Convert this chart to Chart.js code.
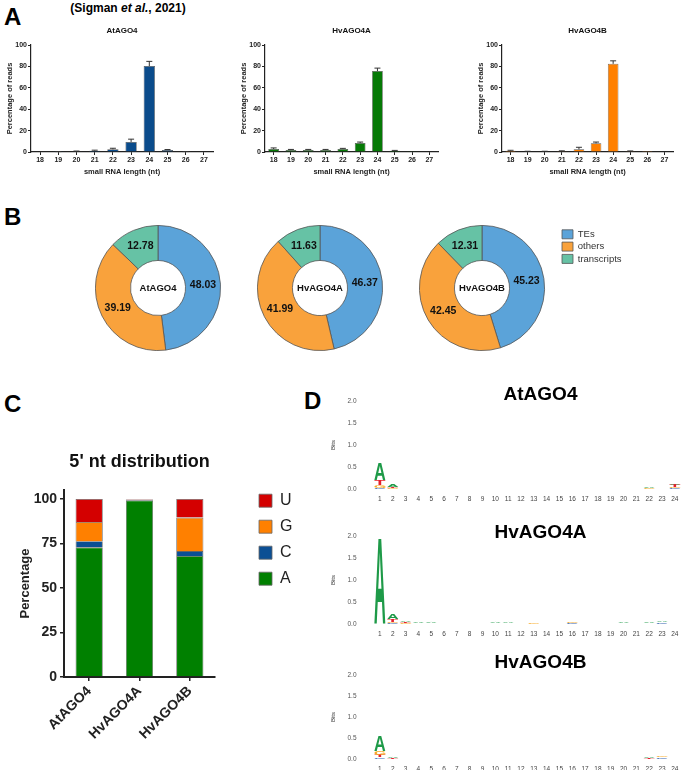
<!DOCTYPE html>
<html>
<head>
<meta charset="utf-8">
<title>AGO4 small RNA profiles</title>
<script src="https://cdn.jsdelivr.net/npm/chart.js@4.4.1/dist/chart.umd.min.js"></script>
<style>
  body { margin: 0; background: #fff; font-family: "Liberation Sans", Arial, sans-serif; }
  #fig { position: relative; width: 685px; height: 780px; overflow: hidden; }
  #fig canvas, #fig .txt { position: absolute; }
  .panel { font-size: 24px; font-weight: bold; line-height: 24px; color: #000; }
</style>
</head>
<body>
<div id="fig">
  <div class="txt panel" style="left:4px;top:5px">A</div>
  <div class="txt" style="left:0;top:1px;width:256px;text-align:center;font-size:12px;line-height:14px;font-weight:bold">(Sigman <i>et al.</i>, 2021)</div>
  <div class="txt panel" style="left:4px;top:205px">B</div>
  <div class="txt panel" style="left:4px;top:392px">C</div>
  <div class="txt panel" style="left:304px;top:389px">D</div>

  <canvas id="lenAt" width="225" height="160" style="left:0;top:20px"></canvas>
  <canvas id="lenHvA" width="216" height="160" style="left:234px;top:20px"></canvas>
  <canvas id="lenHvB" width="214" height="160" style="left:471px;top:20px"></canvas>

  <canvas id="featAt" width="126" height="126" style="left:95px;top:225px"></canvas>
  <canvas id="featHvA" width="126" height="126" style="left:257px;top:225px"></canvas>
  <canvas id="featHvB" width="266" height="126" style="left:419px;top:225px"></canvas>

  <canvas id="ntDist" width="300" height="340" style="left:0;top:440px"></canvas>

  <canvas id="logoAt" width="360" height="130" style="left:325px;top:380px"></canvas>
  <canvas id="logoHvA" width="360" height="130" style="left:325px;top:515px"></canvas>
  <canvas id="logoHvB" width="360" height="126" style="left:325px;top:654px"></canvas>
</div>

<script>
// --- A: read length distribution (% of reads) ---
const lengths = ['18', '19', '20', '21', '22', '23', '24', '25', '26', '27'];
const atAgo4Reads = [0, 0.2, 0.6, 1.2, 2.5, 9.4, 80.3, 1.9, 0.3, 0];
const atAgo4Err = [0, 0.2, 0.3, 0.5, 1.0, 2.6, 4.4, 0.4, 0.1, 0];
const hvAgo4aReads = [2.8, 1.9, 1.9, 1.9, 2.8, 8.4, 75.6, 1.2, 0.2, 0];
const hvAgo4aErr = [1.0, 0.5, 0.5, 0.5, 0.6, 0.9, 2.8, 0.3, 0, 0];
const hvAgo4bReads = [1.2, 0.5, 0.5, 0.8, 2.5, 8.1, 82.4, 0.8, 0.1, 0];
const hvAgo4bErr = [0.4, 0.2, 0.2, 0.3, 1.9, 1.2, 2.8, 0.2, 0, 0];

// --- B: genomic features ---
const featureLabels = ['TEs', 'others', 'transcripts'];
const atAgo4Features = [48.03, 39.19, 12.78];
const hvAgo4aFeatures = [46.37, 41.99, 11.63];
const hvAgo4bFeatures = [45.23, 42.45, 12.31];

// --- C: 5' nucleotide ---
const proteins = ['AtAGO4', 'HvAGO4A', 'HvAGO4B'];
const pctTicks = [0, 25, 50, 75, 100];
const ntA = [72.8, 99.2, 67.9];
const ntC = [3.4, 0.3, 2.8];
const ntG = [10.8, 0.1, 18.8];
const ntU = [13.0, 0.4, 10.5];

// --- D: sequence logos (bits) ---
const logoPositions = ['1', '2', '3', '4', '5', '6', '7', '8', '9', '10', '11', '12',
  '13', '14', '15', '16', '17', '18', '19', '20', '21', '22', '23', '24'];
const atLogoA = [0.37, 0.05, 0.006, 0.005, 0.006, 0.006, 0.006, 0.006, 0.003, 0.006, 0.004, 0.003, 0.006, 0.006, 0.006, 0.006, 0.006, 0.006, 0.005, 0.006, 0.002, 0.02, 0.008, 0.02];
const atLogoC = [0.03, 0.01, 0.003, 0.003, 0.003, 0.003, 0.003, 0.003, 0.002, 0.003, 0.003, 0.003, 0.004, 0.004, 0.004, 0.004, 0.004, 0.004, 0.003, 0.003, 0.001, 0.01, 0.008, 0.03];
const atLogoG = [0.06, 0.02, 0.004, 0.004, 0.004, 0.004, 0.004, 0.004, 0.002, 0.004, 0.003, 0.002, 0.005, 0.005, 0.005, 0.005, 0.004, 0.005, 0.004, 0.004, 0.001, 0.015, 0.008, 0.02];
const atLogoT = [0.12, 0.025, 0.004, 0.004, 0.005, 0.004, 0.005, 0.005, 0.002, 0.004, 0.003, 0.002, 0.005, 0.005, 0.005, 0.005, 0.005, 0.004, 0.004, 0.005, 0.001, 0.01, 0.006, 0.05];

const hvaLogoA = [1.95, 0.1, 0.04, 0.025, 0.018, 0.006, 0.006, 0.008, 0.002, 0.015, 0.012, 0.003, 0.01, 0.002, 0.002, 0.01, 0.001, 0.001, 0.001, 0.02, 0.001, 0.022, 0.012, 0.004];
const hvaLogoC = [0, 0.02, 0.01, 0.006, 0.004, 0.003, 0.003, 0.003, 0.001, 0.005, 0.004, 0.001, 0.006, 0.001, 0.001, 0.03, 0.001, 0.001, 0.001, 0.006, 0.001, 0.008, 0.03, 0.003];
const hvaLogoG = [0, 0.03, 0.012, 0.008, 0.006, 0.003, 0.004, 0.004, 0.001, 0.006, 0.005, 0.001, 0.03, 0.001, 0.001, 0.035, 0.001, 0.001, 0.001, 0.008, 0.001, 0.008, 0.01, 0.003];
const hvaLogoT = [0, 0.06, 0.025, 0.01, 0.006, 0.003, 0.004, 0.004, 0.001, 0.006, 0.007, 0.001, 0.006, 0.001, 0.001, 0.01, 0.001, 0.001, 0.001, 0.006, 0.001, 0.008, 0.01, 0.004];

const hvbLogoA = [0.37, 0.03, 0.006, 0.006, 0.007, 0.007, 0.006, 0.007, 0.003, 0.007, 0.006, 0.005, 0.008, 0.006, 0.002, 0.007, 0.002, 0.001, 0.001, 0.005, 0.001, 0.03, 0.01, 0.006];
const hvbLogoC = [0.04, 0.005, 0.003, 0.003, 0.003, 0.003, 0.003, 0.003, 0.002, 0.003, 0.003, 0.003, 0.004, 0.003, 0.001, 0.004, 0.001, 0.001, 0.001, 0.003, 0.001, 0.006, 0.04, 0.005];
const hvbLogoG = [0.09, 0.01, 0.004, 0.004, 0.005, 0.005, 0.004, 0.004, 0.002, 0.004, 0.004, 0.003, 0.006, 0.004, 0.001, 0.006, 0.001, 0.001, 0.001, 0.004, 0.001, 0.01, 0.02, 0.005];
const hvbLogoT = [0.06, 0.015, 0.004, 0.004, 0.005, 0.005, 0.004, 0.005, 0.002, 0.005, 0.004, 0.003, 0.006, 0.005, 0.001, 0.005, 0.001, 0.001, 0.001, 0.004, 0.001, 0.015, 0.01, 0.005];

const FONT = '"Liberation Sans", Arial, sans-serif';
Chart.defaults.font.family = FONT;
Chart.defaults.color = '#222';
Chart.defaults.animation = false;
Chart.defaults.plugins.tooltip.enabled = false;

// upper error bars (Prism style)
const errorBars = {
  id: 'errorBars',
  afterDatasetsDraw(chart, args, opts) {
    const ctx = chart.ctx, y = chart.scales.y;
    const vals = chart.data.datasets[0].data;
    ctx.save();
    ctx.strokeStyle = '#333';
    ctx.lineWidth = 1;
    chart.getDatasetMeta(0).data.forEach((bar, i) => {
      const e = opts.errors[i];
      if (!e) return;
      const y0 = y.getPixelForValue(vals[i]);
      const y1 = y.getPixelForValue(vals[i] + e);
      ctx.beginPath();
      ctx.moveTo(bar.x, y0); ctx.lineTo(bar.x, y1);
      ctx.moveTo(bar.x - 3, y1); ctx.lineTo(bar.x + 3, y1);
      ctx.stroke();
    });
    ctx.restore();
  }
};

// move a 'chartArea' legend to a fixed spot in the canvas
const placeLegend = {
  id: 'placeLegend',
  afterLayout(chart, args, opts) {
    const lg = chart.legend;
    if (!lg || opts.x === undefined) return;
    lg.left = opts.x; lg.top = opts.y;
    lg.right = chart.width; lg.bottom = chart.height;
    lg.width = lg.right - lg.left; lg.height = lg.bottom - lg.top;
  }
};

// slice values + name in the hole
const ringText = {
  id: 'ringText',
  afterDatasetsDraw(chart, args, opts) {
    const ctx = chart.ctx;
    const arcs = chart.getDatasetMeta(0).data;
    const vals = chart.data.datasets[0].data;
    ctx.save();
    ctx.fillStyle = '#111';
    ctx.textAlign = 'center';
    ctx.textBaseline = 'middle';
    ctx.font = 'bold 10.5px ' + FONT;
    arcs.forEach((arc, i) => {
      const p = arc.tooltipPosition();
      ctx.fillText(vals[i].toFixed(2), p.x, p.y);
    });
    ctx.font = 'bold 9.5px ' + FONT;
    ctx.fillText(opts.name, arcs[0].x, arcs[0].y);
    ctx.restore();
  }
};

// letters stretched into each stacked bar
const logoLetters = {
  id: 'logoLetters',
  afterDatasetsDraw(chart) {
    const ctx = chart.ctx;
    ctx.save();
    ctx.font = 'bold 100px ' + FONT;
    ctx.textAlign = 'left';
    ctx.textBaseline = 'alphabetic';
    chart.data.datasets.forEach((ds, di) => {
      const m = ctx.measureText(ds.label);
      const gw = m.actualBoundingBoxLeft + m.actualBoundingBoxRight;
      const gh = m.actualBoundingBoxAscent + m.actualBoundingBoxDescent;
      chart.getDatasetMeta(di).data.forEach(bar => {
        const p = bar.getProps(['x', 'y', 'base', 'width'], true);
        const h = p.base - p.y;
        if (h < 0.2) return;
        ctx.save();
        ctx.translate(p.x - p.width / 2, p.y);
        ctx.scale(p.width / gw, h / gh);
        ctx.fillStyle = ds.letterColor;
        ctx.fillText(ds.label, m.actualBoundingBoxLeft, m.actualBoundingBoxAscent);
        ctx.restore();
      });
    });
    ctx.restore();
  }
};

const logoTitle = {
  id: 'logoTitle',
  afterDraw(chart, args, opts) {
    const ctx = chart.ctx;
    ctx.save();
    ctx.font = 'bold 19px ' + FONT;
    ctx.fillStyle = '#000';
    ctx.textAlign = 'center';
    ctx.textBaseline = 'middle';
    ctx.fillText(opts.text, opts.x, opts.y);
    ctx.restore();
  }
};

function lengthChart(id, name, reads, errs, fill) {
  return new Chart(document.getElementById(id), {
    type: 'bar',
    data: {
      labels: lengths,
      datasets: [{ data: reads, backgroundColor: fill, borderColor: '#555', borderWidth: 0.7,
        barPercentage: 0.62, categoryPercentage: 1 }]
    },
    options: {
      responsive: false,
      layout: { padding: { right: 12 } },
      plugins: {
        legend: { display: false },
        title: { display: true, text: name, fullSize: false, color: '#111',
          font: { size: 8, weight: 'bold' }, padding: { top: 6, bottom: 9.4 } },
        errorBars: { errors: errs }
      },
      scales: {
        x: {
          grid: { offset: false, drawOnChartArea: false, tickLength: 3, color: '#222' },
          border: { color: '#222', width: 1.2 },
          ticks: { font: { size: 7, weight: 'bold' }, padding: 1, maxRotation: 0 },
          title: { display: true, text: 'small RNA length (nt)', font: { size: 7.5, weight: 'bold' },
            padding: { top: 0, bottom: 3.5 } },
          afterFit: s => { s.height = 28; }
        },
        y: {
          min: 0, max: 100,
          ticks: { stepSize: 20, font: { size: 7, weight: 'bold' }, padding: 1 },
          grid: { drawOnChartArea: false, tickLength: 3, color: '#222' },
          border: { color: '#222', width: 1.2 },
          title: { display: true, text: 'Percentage of reads', font: { size: 7.5, weight: 'bold' },
            padding: { top: 5.5, bottom: 0 } },
          afterFit: s => { s.width = 31; }
        }
      }
    },
    plugins: [errorBars]
  });
}

lengthChart('lenAt', 'AtAGO4', atAgo4Reads, atAgo4Err, '#0b4c8c');
lengthChart('lenHvA', 'HvAGO4A', hvAgo4aReads, hvAgo4aErr, '#067a06');
lengthChart('lenHvB', 'HvAGO4B', hvAgo4bReads, hvAgo4bErr, '#ff8000');

function featureChart(id, name, values, withLegend) {
  return new Chart(document.getElementById(id), {
    type: 'doughnut',
    data: {
      labels: featureLabels,
      datasets: [{ data: values, backgroundColor: ['#5ba3d9', '#f9a23c', '#66c2a5'],
        borderColor: '#555', borderWidth: 0.8 }]
    },
    options: {
      responsive: false,
      cutout: '44%',
      layout: { padding: { right: withLegend ? 140 : 0 } },
      plugins: {
        legend: withLegend ? {
          position: 'chartArea', align: 'start',
          labels: { boxWidth: 11, boxHeight: 9, padding: 2.8, color: '#333', font: { size: 9.5 } }
        } : { display: false },
        placeLegend: withLegend ? { x: 140.2, y: 1.75 } : {},
        ringText: { name: name }
      }
    },
    plugins: [placeLegend, ringText]
  });
}

featureChart('featAt', 'AtAGO4', atAgo4Features, false);
featureChart('featHvA', 'HvAGO4A', hvAgo4aFeatures, false);
featureChart('featHvB', 'HvAGO4B', hvAgo4bFeatures, true);

const ntSets = [
  { label: 'A', data: ntA, backgroundColor: '#008000' },
  { label: 'C', data: ntC, backgroundColor: '#0b4f94' },
  { label: 'G', data: ntG, backgroundColor: '#ff8000' },
  { label: 'U', data: ntU, backgroundColor: '#d40000' }
].map(d => Object.assign(d, { borderColor: '#666', borderWidth: 0.8, barPercentage: 0.54, categoryPercentage: 1 }));

new Chart(document.getElementById('ntDist'), {
  type: 'bar',
  data: { labels: proteins, datasets: ntSets },
  options: {
    responsive: false,
    layout: { padding: { right: 85 } },
    plugins: {
      title: { display: true, text: "5' nt distribution", fullSize: false, color: '#111',
        font: { size: 18, weight: 'bold' }, padding: { top: 11.2, bottom: 17.2 } },
      legend: {
        position: 'chartArea', align: 'start', reverse: true,
        labels: { boxWidth: 13, boxHeight: 13, padding: 10, color: '#222', font: { size: 16 } }
      },
      placeLegend: { x: 249, y: 42.7 }
    },
    scales: {
      x: {
        stacked: true,
        grid: { offset: false, drawOnChartArea: false, tickLength: 4, color: '#222', lineWidth: 1.5 },
        border: { color: '#222', width: 2 },
        ticks: { font: { size: 14, weight: 'bold' }, minRotation: 45, maxRotation: 45, padding: 2 },
        afterFit: s => { s.height = 103; }
      },
      y: {
        stacked: true, min: 0, max: 105,
        ticks: { font: { size: 14, weight: 'bold' }, padding: 3 },
        afterBuildTicks: s => { s.ticks = pctTicks.map(v => ({ value: v })); },
        grid: { drawOnChartArea: false, tickLength: 4, color: '#222', lineWidth: 1.5 },
        border: { color: '#222', width: 2 },
        title: { display: true, text: 'Percentage', font: { size: 13, weight: 'bold' },
          padding: { top: 17.2, bottom: 0 } },
        afterFit: s => { s.width = 64; }
      }
    }
  },
  plugins: [placeLegend]
});

const letterColors = { A: '#1e9a48', C: '#2f5fae', G: '#f7a823', T: '#e5202c' };

function logoChart(id, name, letters, order, titleY, axisH) {
  return new Chart(document.getElementById(id), {
    type: 'bar',
    data: {
      labels: logoPositions,
      datasets: order.map(n => ({ label: n, data: letters[n], letterColor: letterColors[n],
        backgroundColor: 'rgba(0,0,0,0)', barPercentage: 0.86, categoryPercentage: 1 }))
    },
    options: {
      responsive: false,
      layout: { padding: { top: 7, right: 2.5 } },
      plugins: {
        legend: { display: false },
        logoTitle: { text: name, x: 215.5, y: titleY }
      },
      scales: {
        x: {
          stacked: true,
          grid: { display: false, drawTicks: false },
          border: { display: false },
          ticks: { font: { size: 6.5 }, color: '#444', padding: 6.5, maxRotation: 0, autoSkip: false },
          afterFit: s => { s.height = axisH; }
        },
        y: {
          stacked: true, min: 0, max: 2,
          ticks: { stepSize: 0.5, font: { size: 6.5 }, color: '#555', padding: 17,
            callback: v => v.toFixed(1) },
          grid: { display: false, drawTicks: false },
          border: { display: false },
          title: { display: true, text: 'Bits', font: { size: 6 }, color: '#333',
            padding: { top: 4.4, bottom: 0 } },
          afterFit: s => { s.width = 48.5; }
        }
      }
    },
    plugins: [logoLetters, logoTitle]
  });
}

logoChart('logoAt', 'AtAGO4', { A: atLogoA, C: atLogoC, G: atLogoG, T: atLogoT }, ['C', 'G', 'T', 'A'], 15, 14);
logoChart('logoHvA', 'HvAGO4A', { A: hvaLogoA, C: hvaLogoC, G: hvaLogoG, T: hvaLogoT }, ['C', 'G', 'T', 'A'], 18, 14);
logoChart('logoHvB', 'HvAGO4B', { A: hvbLogoA, C: hvbLogoC, G: hvbLogoG, T: hvbLogoT }, ['C', 'T', 'G', 'A'], 8.5, 11);
</script>
</body>
</html>
